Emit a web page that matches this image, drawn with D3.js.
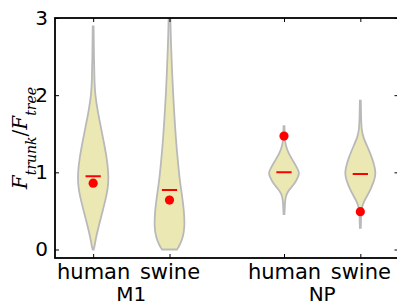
<!DOCTYPE html>
<html>
<head>
<meta charset="utf-8">
<script src="https://cdn.jsdelivr.net/npm/d3@7"></script>
<style>
  body { margin: 0; background: #fff; }
  svg { display: block; font-family: "DejaVu Sans", sans-serif; }
</style>
</head>
<body>
<svg id="chart" width="397" height="305"></svg>
<script>
// hosts under each gene, and the genes
const hosts = ["human", "swine"];
const genes = ["M1", "NP"];

// violin outlines: [value, relative density]
const m1Human = [[0, 0.03], [0.05, 0.1], [0.15, 0.18], [0.3, 0.36], [0.5, 0.62], [0.7, 0.88], [0.85, 1], [1.0, 1], [1.2, 0.88], [1.4, 0.69], [1.6, 0.49], [1.8, 0.29], [2.0, 0.13], [2.2, 0.08], [2.5, 0.05], [2.89, 0.03]];
const m1Swine = [[0, 0.49], [0.05, 0.65], [0.15, 0.88], [0.3, 1], [0.5, 0.95], [0.7, 0.82], [0.9, 0.67], [1.1, 0.57], [1.4, 0.43], [1.7, 0.33], [2.0, 0.24], [2.3, 0.17], [2.6, 0.11], [2.8, 0.08], [3.05, 0.05]];
const npHuman = [[0.46, 0.03], [0.55, 0.05], [0.65, 0.08], [0.72, 0.16], [0.78, 0.36], [0.85, 0.69], [0.95, 0.95], [1.0, 1], [1.05, 0.88], [1.15, 0.59], [1.25, 0.29], [1.35, 0.1], [1.45, 0.05], [1.6, 0.03]];
const npSwine = [[0.28, 0.03], [0.45, 0.05], [0.55, 0.1], [0.62, 0.23], [0.7, 0.46], [0.8, 0.72], [0.9, 0.92], [0.98, 1], [1.05, 0.97], [1.2, 0.75], [1.35, 0.42], [1.45, 0.2], [1.55, 0.08], [1.7, 0.05], [1.93, 0.03]];
const violins = [m1Human, m1Swine, npHuman, npSwine];

// red markers
const medians = [0.95, 0.77, 1.0, 0.98];
const means = [0.86, 0.64, 1.47, 0.49];

const yTicks = [0, 1, 2, 3];

const margin = { top: 18, right: 0, bottom: 47, left: 55 };
const width = 343.5, height = 305 - margin.top - margin.bottom;

const svg = d3.select("#chart");
const g = svg.append("g").attr("transform", `translate(${margin.left},${margin.top})`);

const x = d3.scaleLinear().domain([0.5, 5]).range([0, width]);
const y = d3.scaleLinear().domain([-0.11, 3]).range([height, 0]);
const halfW = d3.scaleLinear().domain([0, 1]).range([0, 0.2]);

// slot on the x scale for violin i: two hosts per gene, gap between genes
const pos = (i) => Math.floor(i / 2) * 2.5 + (i % 2) + 1;

g.append("clipPath").attr("id", "clip")
  .append("rect").attr("width", width).attr("height", height);

const plot = g.append("g").attr("clip-path", "url(#clip)");

violins.forEach((v, i) => {
  const c = pos(i);
  const area = d3.area()
    .curve(d3.curveBasis)
    .y((d) => y(d[0]))
    .x0((d) => x(c - halfW(d[1])))
    .x1((d) => x(c + halfW(d[1])));
  plot.append("path")
    .attr("d", area(v))
    .attr("fill", "#ece8b3")
    .attr("stroke", "#b9b9b9")
    .attr("stroke-width", 1.8);
});

plot.selectAll(".median")
  .data(medians)
  .enter()
  .append("line")
  .attr("x1", (d, i) => x(pos(i) - 0.1))
  .attr("x2", (d, i) => x(pos(i) + 0.1))
  .attr("y1", (d) => y(d))
  .attr("y2", (d) => y(d))
  .attr("stroke", "red")
  .attr("stroke-width", 2);

plot.selectAll(".mean")
  .data(means)
  .enter()
  .append("circle")
  .attr("cx", (d, i) => x(pos(i)))
  .attr("cy", (d) => y(d))
  .attr("r", 4.6)
  .attr("fill", "red");

// axes, ticks pointing inward
const xTickVals = violins.map((v, i) => pos(i));
const tickStyle = (sel) => {
  sel.select(".domain").remove();
  sel.selectAll(".tick line").attr("stroke", "#000").attr("stroke-width", 1);
};

g.append("g")
  .attr("transform", `translate(0,${height})`)
  .call(d3.axisBottom(x).tickValues(xTickVals).tickSizeInner(-4).tickFormat((d, i) => hosts[i % 2]))
  .call(tickStyle)
  .call((s) => s.selectAll(".tick text").attr("y", 20.5).attr("dy", 0).attr("font-size", 21)
    .attr("font-family", "DejaVu Sans").attr("fill", "#000"));

g.append("g")
  .call(d3.axisTop(x).tickValues(xTickVals).tickSizeInner(-4).tickFormat(""))
  .call(tickStyle);

g.append("g")
  .call(d3.axisLeft(y).tickValues(yTicks).tickSizeInner(-4).tickPadding(7).tickFormat(d3.format("d")))
  .call(tickStyle)
  .call((s) => s.selectAll(".tick text").attr("font-size", 20)
    .attr("font-family", "DejaVu Sans").attr("fill", "#000"));

g.append("g")
  .attr("transform", `translate(${width},0)`)
  .call(d3.axisRight(y).tickValues(yTicks).tickSizeInner(-4).tickFormat(""))
  .call(tickStyle);

g.append("rect")
  .attr("width", width).attr("height", height)
  .attr("fill", "none").attr("stroke", "#000").attr("stroke-width", 1.8);

// gene labels under each pair
g.selectAll(".gene")
  .data(genes)
  .enter()
  .append("text")
  .attr("x", (d, i) => x((pos(i * 2) + pos(i * 2 + 1)) / 2))
  .attr("y", height + 43)
  .attr("text-anchor", "middle")
  .attr("font-size", 20)
  .text((d) => d);

// y label: F_trunk / F_tree
const yl = svg.append("text")
  .attr("transform", `translate(27,${margin.top + height / 2}) rotate(-90)`)
  .attr("text-anchor", "middle")
  .attr("font-family", "DejaVu Serif")
  .attr("font-style", "italic")
  .attr("font-size", 20);
yl.append("tspan").text("F");
yl.append("tspan").attr("font-size", 14).attr("dy", 9).text("trunk");
yl.append("tspan").attr("dy", -9).attr("font-style", "normal").text("/");
yl.append("tspan").text("F");
yl.append("tspan").attr("font-size", 14).attr("dy", 9).text("tree");
</script>
</body>
</html>
